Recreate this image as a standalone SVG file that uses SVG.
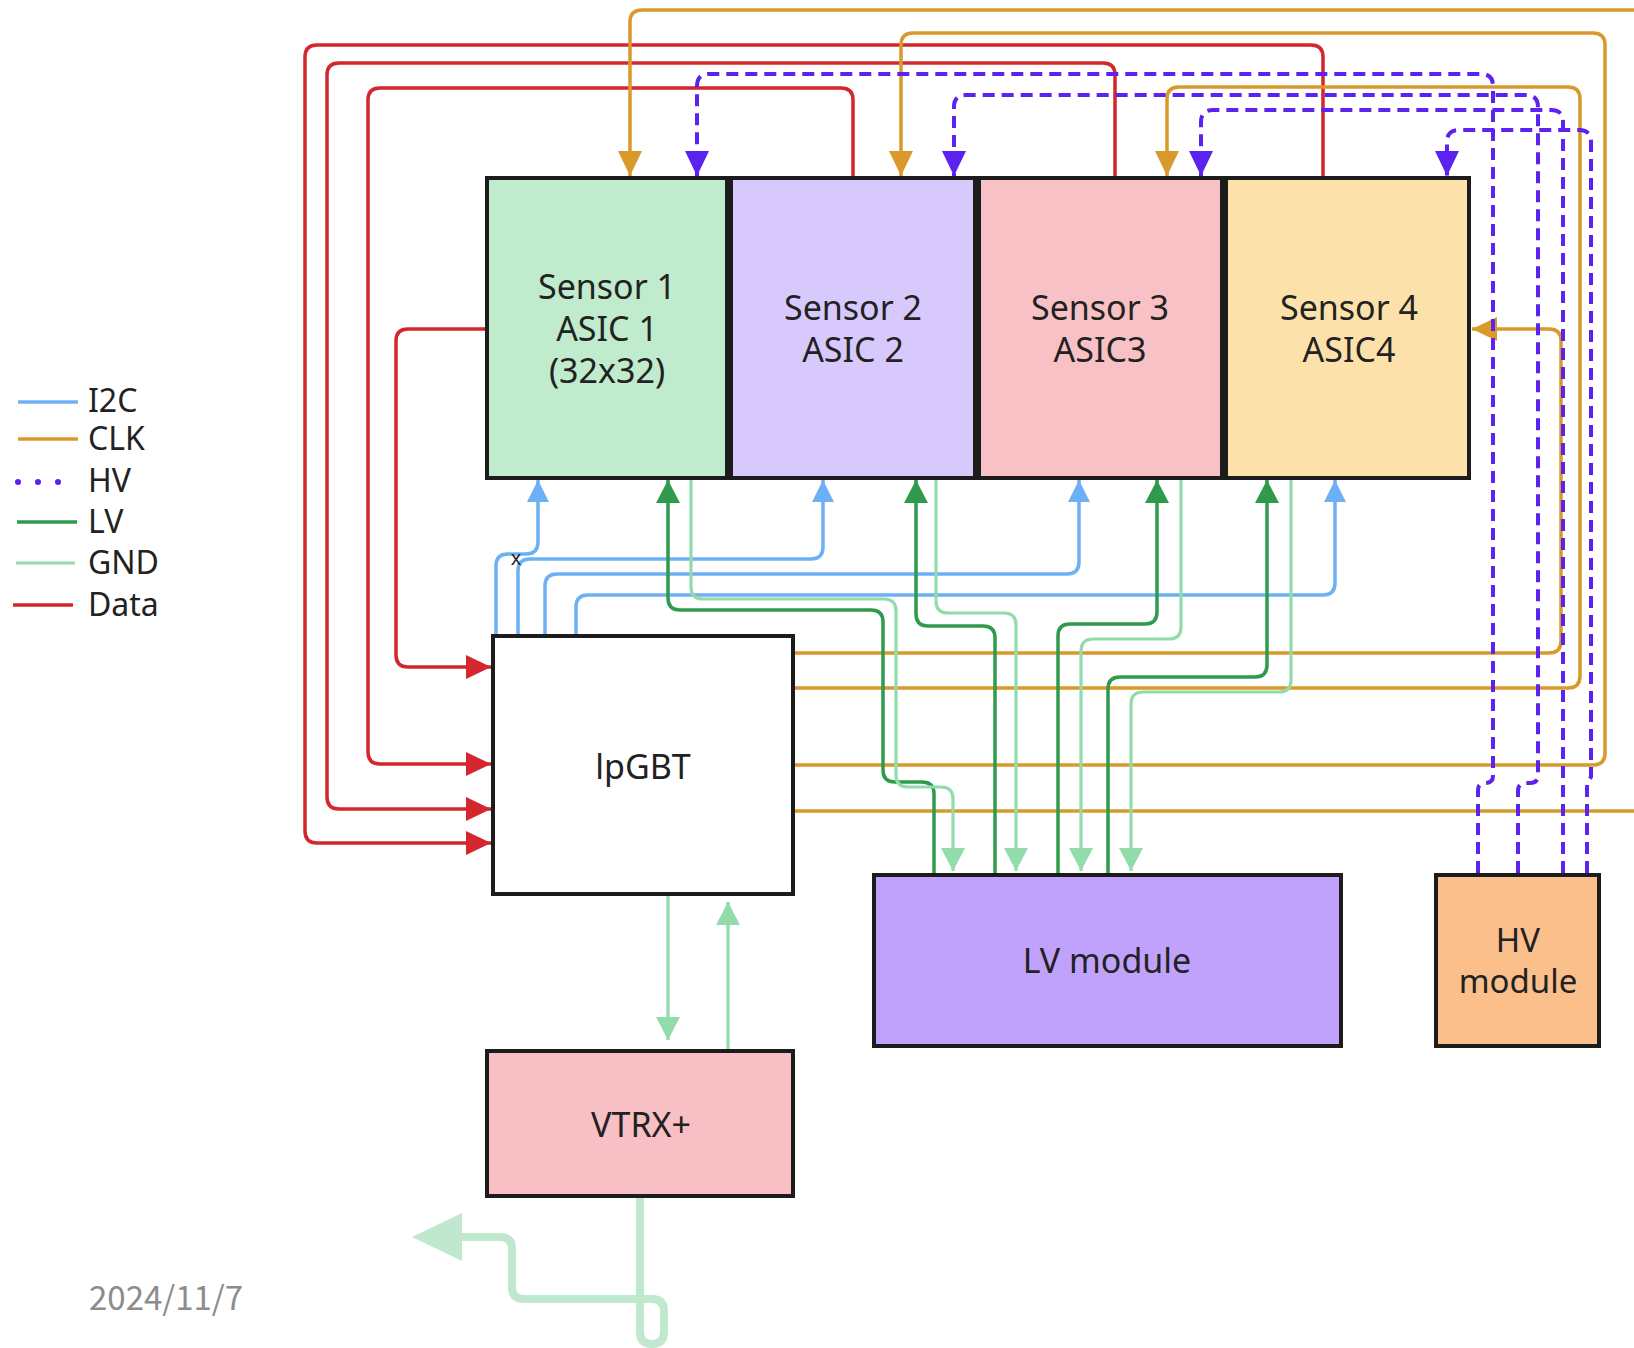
<svg xmlns="http://www.w3.org/2000/svg" width="1634" height="1348" viewBox="0 0 1634 1348">
<style>
.box{stroke:#1c1c1c;stroke-width:4}
.lbl{font-family:"Noto Sans","Liberation Sans",sans-serif;font-size:34px;fill:#222;text-anchor:middle}
.hvl{font-size:33px}
.leg{font-family:"Noto Sans","Liberation Sans",sans-serif;font-size:32px;fill:#222}
.w{fill:none;stroke-width:3.5;stroke-linejoin:round}
.i2c{stroke:#6eb0f5}
.clk{stroke:#d99a2b}
.hv{stroke:#5b22f0;stroke-width:4;stroke-dasharray:12 7}
.lv{stroke:#2f9a4c}
.gnd{stroke:#92dbab;stroke-width:3.2}
.data{stroke:#d3262d}
</style>
<defs>
<marker id="aClk" markerUnits="userSpaceOnUse" markerWidth="25" markerHeight="24" viewBox="0 0 25 24" refX="25" refY="12" orient="auto"><path d="M0,0 L25,12 L0,24 z" fill="#d99a2b"/></marker>
<marker id="aHv" markerUnits="userSpaceOnUse" markerWidth="25" markerHeight="24" viewBox="0 0 25 24" refX="25" refY="12" orient="auto"><path d="M0,0 L25,12 L0,24 z" fill="#5b22f0"/></marker>
<marker id="aI2c" markerUnits="userSpaceOnUse" markerWidth="22" markerHeight="22" viewBox="0 0 22 22" refX="22" refY="11" orient="auto"><path d="M0,0 L22,11 L0,22 z" fill="#6eb0f5"/></marker>
<marker id="aLv" markerUnits="userSpaceOnUse" markerWidth="23" markerHeight="24" viewBox="0 0 23 24" refX="23" refY="12" orient="auto"><path d="M0,0 L23,12 L0,24 z" fill="#2f9a4c"/></marker>
<marker id="aGnd" markerUnits="userSpaceOnUse" markerWidth="23" markerHeight="24" viewBox="0 0 23 24" refX="23" refY="12" orient="auto"><path d="M0,0 L23,12 L0,24 z" fill="#92dbab"/></marker>
<marker id="aData" markerUnits="userSpaceOnUse" markerWidth="25" markerHeight="24" viewBox="0 0 25 24" refX="25" refY="12" orient="auto"><path d="M0,0 L25,12 L0,24 z" fill="#d3262d"/></marker>
<marker id="aBig" markerUnits="userSpaceOnUse" markerWidth="50" markerHeight="48" viewBox="0 0 50 48" refX="40" refY="24" orient="auto"><path d="M0,0 L50,24 L0,48 z" fill="#bfe8cf"/></marker>
</defs>
<rect width="1634" height="1348" fill="#ffffff"/>

<g id="legend">
<line x1="18" y1="402" x2="78" y2="402" class="w i2c"/>
<text x="88" y="412" class="leg">I2C</text>
<line x1="18" y1="439" x2="78" y2="439" class="w clk"/>
<text x="88" y="450" class="leg">CLK</text>
<line x1="18" y1="482" x2="60" y2="482" stroke="#5b22f0" stroke-width="6" stroke-linecap="round" stroke-dasharray="0 20"/>
<text x="88" y="492" class="leg">HV</text>
<line x1="17" y1="522" x2="77" y2="522" class="w lv"/>
<text x="88" y="533" class="leg">LV</text>
<line x1="16" y1="563" x2="75" y2="563" class="w gnd"/>
<text x="88" y="574" class="leg">GND</text>
<line x1="13" y1="605" x2="73" y2="605" class="w data"/>
<text x="88" y="616" class="leg">Data</text>
</g>

<g id="sensor1"><rect x="487" y="178" width="240" height="300" fill="#c0ebcd" class="box"/>
<text class="lbl" x="607" y="299">Sensor 1</text><text class="lbl" x="607" y="341">ASIC 1</text><text class="lbl" x="607" y="383">(32x32)</text></g>
<g id="sensor2"><rect x="731" y="178" width="244" height="300" fill="#d8c9fc" class="box"/>
<text class="lbl" x="853" y="320">Sensor 2</text><text class="lbl" x="853" y="362">ASIC 2</text></g>
<g id="sensor3"><rect x="979" y="178" width="243" height="300" fill="#f8c1c5" class="box"/>
<text class="lbl" x="1100" y="320">Sensor 3</text><text class="lbl" x="1100" y="362">ASIC3</text></g>
<g id="sensor4"><rect x="1226" y="178" width="243" height="300" fill="#fde1ab" class="box"/>
<text class="lbl" x="1349" y="320">Sensor 4</text><text class="lbl" x="1349" y="362">ASIC4</text></g>
<g id="lpgbt"><rect x="493" y="636" width="300" height="258" fill="#ffffff" class="box"/>
<text class="lbl" x="643" y="779">lpGBT</text></g>
<g id="vtrx"><rect x="487" y="1051" width="306" height="145" fill="#f8c0c4" class="box"/>
<text class="lbl" x="641" y="1137">VTRX+</text></g>
<g id="lvmodule"><rect x="874" y="875" width="467" height="171" fill="#c0a2fc" class="box"/>
<text class="lbl" x="1107" y="973">LV module</text></g>
<g id="hvmodule"><rect x="1436" y="875" width="163" height="171" fill="#fbbf8c" class="box"/>
<text class="lbl hvl" x="1518" y="952">HV</text><text class="lbl hvl" x="1518" y="993">module</text></g>

<g id="connectors">
<!-- Data -->
<path class="w data" marker-end="url(#aData)" d="M485,329 H408 Q396,329 396,341 V655 Q396,667 408,667 H491"/>
<path class="w data" marker-end="url(#aData)" d="M853,176 V100 Q853,88 841,88 H380 Q368,88 368,100 V752 Q368,764 380,764 H491"/>
<path class="w data" marker-end="url(#aData)" d="M1115,176 V75 Q1115,63 1103,63 H339 Q327,63 327,75 V797 Q327,809 339,809 H491"/>
<path class="w data" marker-end="url(#aData)" d="M1323,176 V57 Q1323,45 1311,45 H317 Q305,45 305,57 V831 Q305,843 317,843 H491"/>
<!-- CLK -->
<path class="w clk" marker-end="url(#aClk)" d="M795,811 H1660 V10 H642 Q630,10 630,22 V176"/>
<path class="w clk" marker-end="url(#aClk)" d="M795,765 H1593 Q1605,765 1605,753 V45 Q1605,33 1593,33 H913 Q901,33 901,45 V176"/>
<path class="w clk" marker-end="url(#aClk)" d="M795,688 H1568 Q1580,688 1580,676 V99 Q1580,87 1568,87 H1179 Q1167,87 1167,99 V176"/>
<path class="w clk" marker-end="url(#aClk)" d="M795,653 H1549 Q1561,653 1561,641 V341 Q1561,329 1549,329 H1472"/>
<!-- HV -->
<path class="w hv" marker-end="url(#aHv)" d="M1478,873 V790 Q1478,783 1485,783 Q1493,783 1493,776 V86 Q1493,74 1481,74 H709 Q697,74 697,86 V176"/>
<path class="w hv" marker-end="url(#aHv)" d="M1518,873 V791 Q1518,783 1526,783 H1530 Q1538,783 1538,775 V107 Q1538,95 1526,95 H966 Q954,95 954,107 V176"/>
<path class="w hv" marker-end="url(#aHv)" d="M1563,873 V122 Q1563,110 1551,110 H1213 Q1201,110 1201,122 V176"/>
<path class="w hv" marker-end="url(#aHv)" d="M1587,873 V788 Q1587,782 1591,777 V142 Q1591,130 1579,130 H1459 Q1447,130 1447,142 V176"/>
<!-- I2C -->
<path class="w i2c" marker-end="url(#aI2c)" d="M496,634 V566 Q496,554 508,554 H526 Q538,554 538,542 V480"/>
<path class="w i2c" marker-end="url(#aI2c)" d="M518,634 V571 Q518,559 530,559 H811 Q823,559 823,547 V480"/>
<path class="w i2c" marker-end="url(#aI2c)" d="M545,634 V586 Q545,574 557,574 H1067 Q1079,574 1079,562 V480"/>
<path class="w i2c" marker-end="url(#aI2c)" d="M576,634 V607 Q576,595 588,595 H1323 Q1335,595 1335,583 V480"/>
<text x="516" y="565" font-family="Noto Sans, Liberation Sans, sans-serif" font-size="20" fill="#222" text-anchor="middle">x</text>
<!-- LV -->
<path class="w lv" marker-end="url(#aLv)" d="M934,873 V794 Q934,782 922,782 H895 Q883,782 883,770 V622 Q883,610 871,610 H680 Q668,610 668,598 V480"/>
<path class="w lv" marker-end="url(#aLv)" d="M995,873 V638 Q995,626 983,626 H928 Q916,626 916,614 V480"/>
<path class="w lv" marker-end="url(#aLv)" d="M1058,873 V636 Q1058,624 1070,624 H1145 Q1157,624 1157,612 V480"/>
<path class="w lv" marker-end="url(#aLv)" d="M1108,873 V689 Q1108,677 1120,677 H1255 Q1267,677 1267,665 V480"/>
<!-- GND -->
<path class="w gnd" marker-end="url(#aGnd)" d="M691,480 V587 Q691,599 703,599 H884 Q896,599 896,611 V775 Q896,787 908,787 H941 Q953,787 953,799 V871"/>
<path class="w gnd" marker-end="url(#aGnd)" d="M936,480 V601 Q936,613 948,613 H1004 Q1016,613 1016,625 V871"/>
<path class="w gnd" marker-end="url(#aGnd)" d="M1181,480 V627 Q1181,639 1169,639 H1093 Q1081,639 1081,651 V871"/>
<path class="w gnd" marker-end="url(#aGnd)" d="M1291,480 V680 Q1291,692 1279,692 H1143 Q1131,692 1131,704 V871"/>
<path class="w gnd" marker-end="url(#aGnd)" d="M668,896 V1040"/>
<path class="w gnd" marker-end="url(#aGnd)" d="M728,1049 V902"/>
<path fill="none" stroke="#bfe8cf" stroke-width="8" stroke-linejoin="round" marker-end="url(#aBig)" d="M640,1198 V1332 Q640,1344 652,1344 Q664,1344 664,1332 V1311 Q664,1299 652,1299 H524 Q512,1299 512,1287 V1249 Q512,1237 500,1237 H422"/>
</g>

<text x="89" y="1310" font-family="Noto Sans CJK JP, Noto Sans, sans-serif" font-size="33" fill="#8c8c8c">2024/11/7</text>
</svg>
